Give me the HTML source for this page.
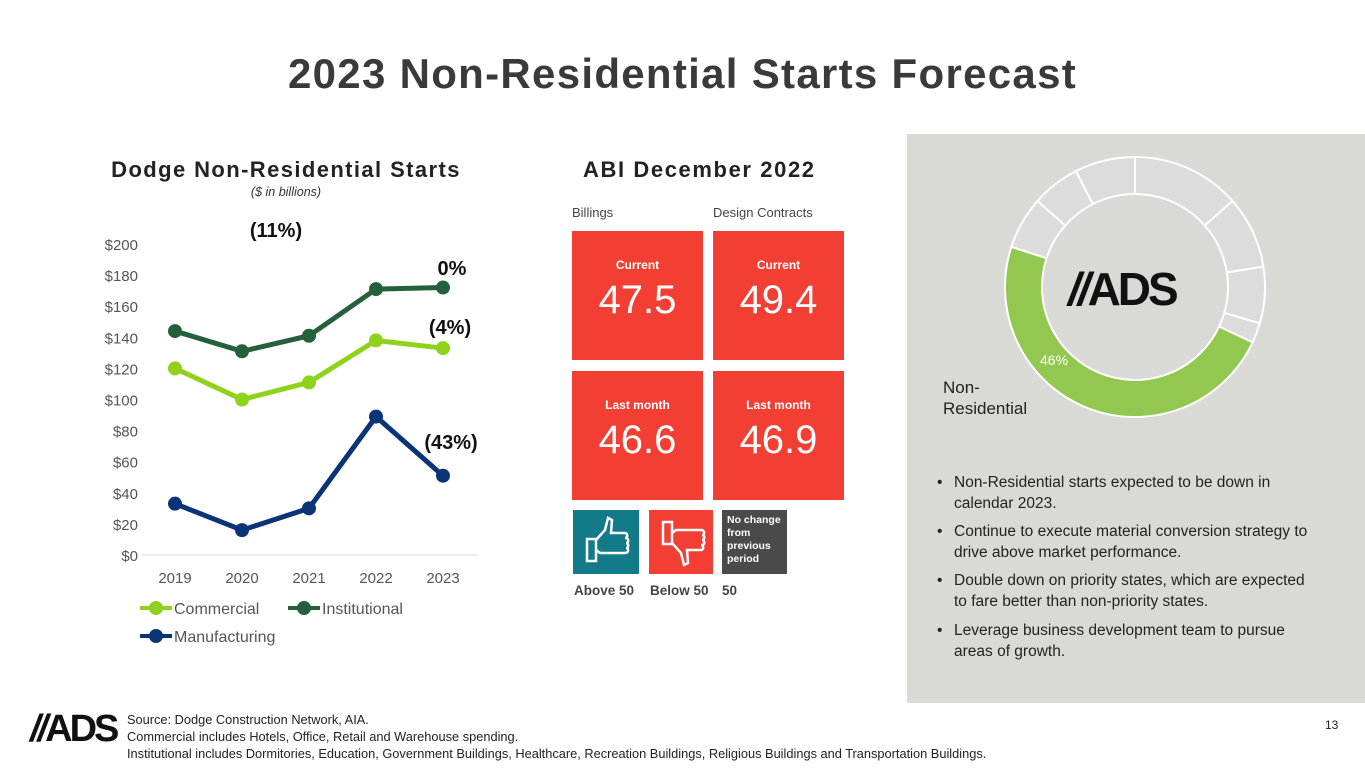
<!DOCTYPE html>
<html><head><meta charset="utf-8"><style>
*{margin:0;padding:0;box-sizing:border-box}
body{width:1365px;height:768px;background:#fff;position:relative;overflow:hidden;font-family:"Liberation Sans",sans-serif;color:#333}
.abs{position:absolute}
.box{position:absolute;background:#f33f33;color:#fff;text-align:center}
.box .l{font-weight:bold;font-size:12px;margin-top:27px}
.box .v{font-size:40px;margin-top:6px}
.bul{position:absolute;left:937px;font-size:15.5px;line-height:21px;color:#222;width:376px}
.bul span{position:absolute;left:0}
.bul div{padding-left:17px}
</style></head><body>
<div class="abs" style="left:0;width:1365px;top:50px;text-align:center;font-size:42px;letter-spacing:1.3px;font-weight:bold;color:#3a3a3a">2023 Non-Residential Starts Forecast</div>

<div class="abs" style="left:86px;width:400px;top:157px;text-align:center;font-size:22px;letter-spacing:1.4px;font-weight:bold;color:#222">Dodge Non-Residential Starts</div>
<div class="abs" style="left:86px;width:400px;top:185px;text-align:center;font-size:12.5px;font-style:italic;color:#333">($ in billions)</div>

<svg class="abs" id="lc" style="left:0;top:0" width="560" height="700"></svg>

<div class="abs" style="left:583px;top:157px;font-size:22px;letter-spacing:1.6px;font-weight:bold;color:#222">ABI December 2022</div>
<div class="abs" style="left:572px;top:205px;font-size:13px;color:#444">Billings</div>
<div class="abs" style="left:713px;top:205px;font-size:13px;color:#444">Design Contracts</div>
<div class="box" style="left:572px;top:231px;width:131px;height:129px"><div class="l">Current</div><div class="v">47.5</div></div>
<div class="box" style="left:713px;top:231px;width:131px;height:129px"><div class="l">Current</div><div class="v">49.4</div></div>
<div class="box" style="left:572px;top:371px;width:131px;height:129px"><div class="l">Last month</div><div class="v">46.6</div></div>
<div class="box" style="left:713px;top:371px;width:131px;height:129px"><div class="l">Last month</div><div class="v">46.9</div></div>

<svg class="abs" style="left:573px;top:510px" width="66" height="64"><rect width="66" height="64" fill="#137a89"/><path d="M14 29h9v22h-9z M23 30l9-10 3-12 4 2-1 13h14c3 0 3 5 0 5h1c3 0 3 5 0 5 3 0 3 5 0 5 3 0 3 5-1 5H27l-4-3" fill="none" stroke="#fff" stroke-width="2.5"/></svg>
<svg class="abs" style="left:649px;top:510px" width="64" height="64"><rect width="64" height="64" fill="#f33f33"/><path d="M14 12h9v22h-9z M23 33l9 10 3 12 4-2-1-13h14c3 0 3-5 0-5h1c3 0 3-5 0-5 3 0 3-5 0-5 3 0 3-5-1-5H27l-4 3" fill="none" stroke="#fff" stroke-width="2.5"/></svg>
<div class="abs" style="left:722px;top:510px;width:65px;height:64px;background:#4a4a4a;color:#fff;font-size:10.5px;font-weight:bold;line-height:13px;padding:4px 5px">No change from previous period</div>
<div class="abs" style="left:574px;top:583px;font-size:13.5px;font-weight:bold;color:#444">Above 50</div>
<div class="abs" style="left:650px;top:583px;font-size:13.5px;font-weight:bold;color:#444">Below 50</div>
<div class="abs" style="left:722px;top:583px;font-size:13.5px;font-weight:bold;color:#444">50</div>

<div class="abs" style="left:907px;top:134px;width:458px;height:569px;background:#d9d9d6"></div>
<svg class="abs" id="dn" style="left:907px;top:134px" width="458" height="300"></svg>
<div class="abs" style="left:1068px;top:262px;font-size:46px;font-weight:900;font-style:italic;color:#111;letter-spacing:-3px"><span style="color:#111">//</span><span style="font-style:normal">ADS</span></div>
<div class="abs" style="left:943px;top:377px;font-size:17px;line-height:21px;color:#222">Non-<br>Residential</div>

<div class="bul" style="top:472px"><span>•</span><div>Non-Residential starts expected to be down in calendar 2023.</div></div>
<div class="bul" style="top:521px"><span>•</span><div>Continue to execute material conversion strategy to drive above market performance.</div></div>
<div class="bul" style="top:570px"><span>•</span><div>Double down on priority states, which are expected to fare better than non-priority states.</div></div>
<div class="bul" style="top:620px"><span>•</span><div>Leverage business development team to pursue areas of growth.</div></div>

<div class="abs" style="left:30px;top:708px;font-size:38px;font-weight:900;color:#111;letter-spacing:-3px"><i>//</i>ADS</div>
<div class="abs" style="left:127px;top:711px;font-size:12.8px;line-height:17px;color:#222">Source: Dodge Construction Network, AIA.<br>Commercial includes Hotels, Office, Retail and Warehouse spending.<br>Institutional includes Dormitories, Education, Government Buildings, Healthcare, Recreation Buildings, Religious Buildings and Transportation Buildings.</div>
<div class="abs" style="left:1325px;top:718px;font-size:12px;color:#222">13</div>

<script>
const years=["2019","2020","2021","2022","2023"];
const commercial=[120,100,111,138,133];
const institutional=[144,131,141,171,172];
const manufacturing=[33,16,30,89,51];
const yTicks=[0,20,40,60,80,100,120,140,160,180,200];
const donutVals=[13.5,9,7,2.5,48,6.5,6,7.5];
const NS="http://www.w3.org/2000/svg";
function mk(p,t,a){const e=document.createElementNS(NS,t);for(const k in a)e.setAttribute(k,a[k]);p.appendChild(e);return e;}
const svg=document.getElementById('lc');
const y=v=>555-v*1.555, x=i=>175+i*67;
mk(svg,'line',{x1:142,x2:478,y1:y(0),y2:y(0),stroke:'#ddd','stroke-width':1});
yTicks.forEach(t=>{const e=mk(svg,'text',{x:138,y:y(t)+6,'text-anchor':'end','font-size':15,fill:'#555'});e.textContent='$'+t;

});
years.forEach((yr,i)=>{const e=mk(svg,'text',{x:x(i),y:583,'text-anchor':'middle','font-size':15,fill:'#555'});e.textContent=yr;

});
[[commercial,'#8fd21b','commercial'],[institutional,'#24613a','institutional'],[manufacturing,'#0b3377','manufacturing']].forEach(([d,c,n])=>{
const l=mk(svg,'polyline',{points:d.map((v,i)=>x(i)+','+y(v)).join(' '),fill:'none',stroke:c,'stroke-width':5});


d.forEach((v,i)=>{const p=mk(svg,'circle',{cx:x(i),cy:y(v),r:7,fill:c});

});});
const anns=[["(11%)",276,237],["0%",452,275],["(4%)",450,334],["(43%)",451,449]];
anns.forEach(a=>{const e=mk(svg,'text',{x:a[1],y:a[2],'text-anchor':'middle','font-size':20,'font-weight':'bold',fill:'#111'});e.textContent=a[0];

});
[[commercial,'#8fd21b','Commercial',150,608],[institutional,'#24613a','Institutional',298,608],[manufacturing,'#0b3377','Manufacturing',150,636]].forEach(([d,c,n,lx,ly])=>{
mk(svg,'line',{x1:lx-10,x2:lx+22,y1:ly,y2:ly,stroke:c,'stroke-width':4});mk(svg,'circle',{cx:lx+6,cy:ly,r:7,fill:c});
const t=mk(svg,'text',{x:lx+24,y:ly+6,'font-size':16,fill:'#555'});t.textContent=n;

});
const dn=document.getElementById('dn');
const cx=228,cy=153,R=130,r=93;const tot=donutVals.reduce((a,b)=>a+b,0);let a0=0;
donutVals.forEach((v,i)=>{const a1=a0+v/tot*2*Math.PI;const P=(rr,a)=>[cx+rr*Math.sin(a),cy-rr*Math.cos(a)];
const [x1,y1]=P(R,a0),[x2,y2]=P(R,a1),[x3,y3]=P(r,a1),[x4,y4]=P(r,a0);const lg=(a1-a0)>Math.PI?1:0;
const p=mk(dn,'path',{d:`M${x1} ${y1}A${R} ${R} 0 ${lg} 1 ${x2} ${y2}L${x3} ${y3}A${r} ${r} 0 ${lg} 0 ${x4} ${y4}Z`,fill:i==4?'#92c84f':'#dcdcdc',stroke:'#fff','stroke-width':2});

a0=a1;});
const pt=mk(dn,'text',{x:133,y:231,'font-size':14,fill:'#fff'});pt.textContent='46%';


</script>
</body></html>
